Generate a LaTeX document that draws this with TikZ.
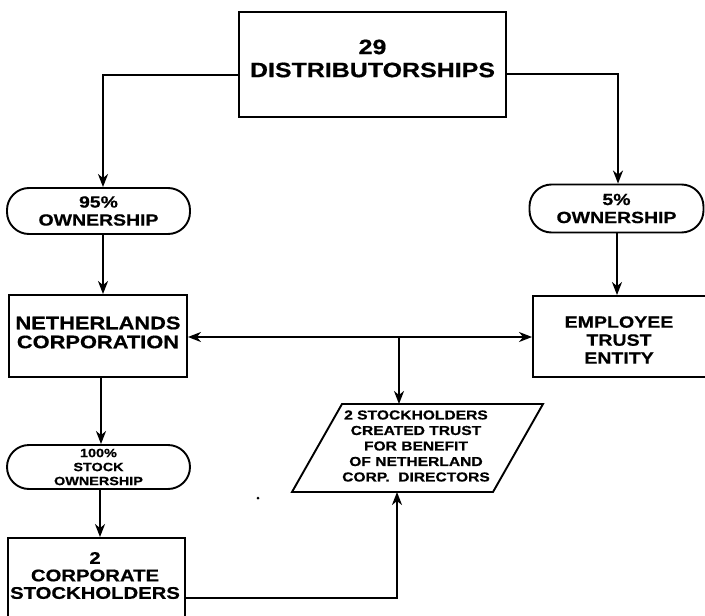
\documentclass[tikz,border=0pt]{standalone}
\usepackage{fontspec}
\setmainfont{Liberation Sans}
\newfontfamily\labfont[FakeStretch=1.2, BoldFeatures={FakeBold=0.6}]{Liberation Sans}
\usetikzlibrary{arrows.meta}
\tikzset{
  box/.style={draw, line width=1.9pt, rectangle, inner sep=0pt},
  pill/.style={draw, line width=1.9pt, rectangle, rounded corners=22pt, inner sep=0pt},
  lab/.style 2 args={align=center, inner sep=0pt, font=\labfont\bfseries\fontsize{#1}{#2}\selectfont},
  conn/.style={line width=1.9pt, -{Stealth[length=13pt,width=10pt,inset=4pt]}},
  both/.style={line width=1.9pt, {Stealth[length=13pt,width=10pt,inset=4pt]}-{Stealth[length=13pt,width=10pt,inset=4pt]}},
}
\begin{document}
\begin{tikzpicture}[x=1pt, y=-1pt]
\fill[white] (0,0) rectangle (705,616);
\useasboundingbox (0,0) rectangle (705,616);

% top box
\node[box, minimum width=267pt, minimum height=105pt] (dist) at (372.5,64.5) {};
\node[lab={20.8}{23}] (distT) at (372.5,58.5) {29\\DISTRIBUTORSHIPS};

% ownership pills
\node[pill, lab={16.2}{18}, minimum width=183pt, minimum height=46pt] (o95) at (98.5,211) {95\%\\OWNERSHIP};
\node[pill, lab={16.2}{18}, minimum width=174pt, minimum height=48pt] (o5) at (616.5,208.5) {5\%\\OWNERSHIP};

% boxes
\node[box, minimum width=178pt, minimum height=82pt] (nl) at (98,336) {};
\node[lab={18.2}{19}] (nlT) at (98,332.5) {NETHERLANDS\\CORPORATION};

\node[box, minimum width=175pt, minimum height=81pt] (emp) at (620.5,336.5) {};
\node[lab={16.3}{18}] (empT) at (619,340) {EMPLOYEE\\TRUST\\ENTITY};

\node[pill, lab={12}{14}, minimum width=183pt, minimum height=44pt] (o100) at (98.5,467) {100\%\\STOCK\\OWNERSHIP};

\node[box, minimum width=177pt, minimum height=92pt] (corp) at (96.5,584) {};
\node[lab={16.9}{17.5}] (corpT) at (95,575.5) {2\\CORPORATE\\STOCKHOLDERS};

% parallelogram
\coordinate (pbl) at (292,492);
\coordinate (pbr) at (493,492);
\coordinate (ptr) at (543,404);
\coordinate (ptl) at (342,404);
\draw[line width=1.9pt, line join=miter] (pbl) -- (pbr) -- (ptr) -- (ptl) -- cycle;
\node[lab={13}{15.5}] (paraT) at (416,446) {2 STOCKHOLDERS\\CREATED TRUST\\FOR BENEFIT\\OF NETHERLAND\\CORP.~~DIRECTORS};
\coordinate (pt) at (399,404);
\coordinate (pb) at (397,492);

% column coordinates
\coordinate (cL) at (103,0);
\coordinate (cL2) at (101,0);
\coordinate (cL3) at (100,0);
\coordinate (cR) at (618,0);
\coordinate (cR2) at (617,0);

% connectors
\draw[conn] ([yshift=-10.5pt]dist.west) -| (o95.north -| cL);
\draw[conn] ([yshift=-9.5pt]dist.east) -| (o5.north -| cR);
\draw[conn] (o95.south -| cL) -- (nl.north -| cL);
\draw[conn] (o5.south -| cR2) -- (emp.north -| cR2);
\draw[both] ([yshift=-1pt]nl.east) -- ([yshift=-1pt]nl.east -| emp.west);
\draw[conn] ([yshift=-1pt]nl.east -| pt) -- (pt);
\draw[conn] (nl.south -| cL2) -- (o100.north -| cL2);
\draw[conn] (o100.south -| cL3) -- (corp.north -| cL3);
\draw[conn] ([yshift=-14pt]corp.east) -| (pb);

% stray dot
\fill (258,498) circle (1.5pt);
\end{tikzpicture}
\end{document}
